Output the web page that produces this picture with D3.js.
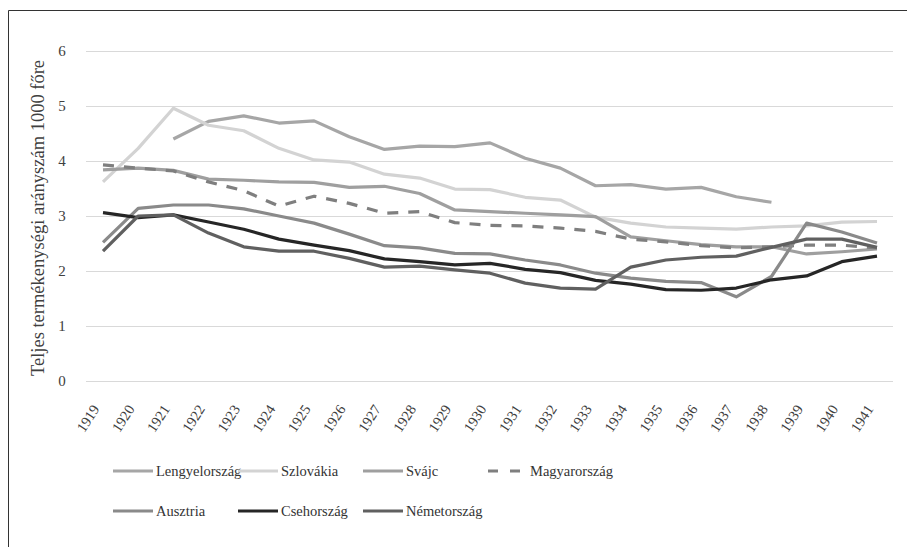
<!DOCTYPE html>
<html>
<head>
<meta charset="utf-8">
<script src="https://cdn.jsdelivr.net/npm/d3@7"></script>
<style>
  body { margin: 0; background: #fff; }
  svg { display: block; font-family: "Liberation Serif", "DejaVu Serif", serif; }
</style>
</head>
<body>
<svg width="907" height="547"></svg>
<script>
var years = d3.range(1919, 1942);
var yTicks = [0, 1, 2, 3, 4, 5, 6];

var lengyel = [null, null, 4.40, 4.72, 4.82, 4.69, 4.73, 4.44, 4.21, 4.27, 4.26, 4.33, 4.05, 3.87, 3.55, 3.57, 3.49, 3.52, 3.35, 3.25, null, null, null];
var szlovakia = [3.62, 4.23, 4.96, 4.65, 4.55, 4.23, 4.02, 3.98, 3.76, 3.69, 3.49, 3.48, 3.34, 3.29, 2.98, 2.87, 2.80, 2.78, 2.76, 2.80, 2.82, 2.89, 2.90];
var svajc = [3.84, 3.87, 3.83, 3.67, 3.65, 3.62, 3.61, 3.52, 3.54, 3.41, 3.11, 3.08, 3.05, 3.02, 2.99, 2.62, 2.55, 2.48, 2.44, 2.44, 2.31, 2.35, 2.40];
var magyar = [3.93, 3.87, 3.82, 3.62, 3.46, 3.18, 3.36, 3.23, 3.05, 3.08, 2.88, 2.83, 2.82, 2.78, 2.72, 2.58, 2.53, 2.46, 2.42, 2.44, 2.47, 2.47, 2.42];
var ausztria = [2.52, 3.14, 3.20, 3.20, 3.13, 3.00, 2.87, 2.67, 2.46, 2.42, 2.32, 2.31, 2.20, 2.11, 1.96, 1.87, 1.81, 1.79, 1.53, 1.90, 2.87, 2.71, 2.51];
var cseh = [3.06, 2.97, 3.02, 2.89, 2.76, 2.58, 2.47, 2.37, 2.22, 2.17, 2.11, 2.14, 2.03, 1.97, 1.83, 1.76, 1.66, 1.65, 1.69, 1.84, 1.91, 2.17, 2.27];
var nemet = [2.36, 3.00, 3.02, 2.69, 2.44, 2.36, 2.36, 2.23, 2.07, 2.09, 2.02, 1.96, 1.78, 1.69, 1.67, 2.07, 2.20, 2.25, 2.27, 2.43, 2.58, 2.58, 2.43];

var series = [
  { name: 'Lengyelország', values: lengyel, color: '#a6a6a6', dash: null },
  { name: 'Szlovákia', values: szlovakia, color: '#d3d3d3', dash: null },
  { name: 'Svájc', values: svajc, color: '#9f9f9f', dash: null },
  { name: 'Magyarország', values: magyar, color: '#7f7f7f', dash: '11,10' },
  { name: 'Ausztria', values: ausztria, color: '#8a8a8a', dash: null },
  { name: 'Csehország', values: cseh, color: '#262626', dash: null },
  { name: 'Németország', values: nemet, color: '#606060', dash: null }
];

(function() {
  'use strict';

  var svg = d3.select('svg');

  // frame (only left and top edges visible in the original)
  svg.append('path')
    .attr('d', 'M8.5,547 V10.5 H907')
    .attr('fill', 'none')
    .attr('stroke', '#333')
    .attr('stroke-width', 1);

  var plotLeft = 86, plotRight = 893, plotTop = 51, plotBottom = 381;

  var x = d3.scalePoint()
    .domain(years)
    .range([103, 877]);

  var y = d3.scaleLinear()
    .domain([0, 6])
    .range([plotBottom, plotTop]);

  // gridlines
  svg.append('g')
    .selectAll('line')
    .data(yTicks)
    .enter()
    .append('line')
    .attr('x1', plotLeft)
    .attr('x2', plotRight)
    .attr('y1', function(d) { return Math.round(y(d)) + 0.5; })
    .attr('y2', function(d) { return Math.round(y(d)) + 0.5; })
    .attr('stroke', '#d9d9d9')
    .attr('stroke-width', 1);

  // y tick labels
  svg.append('g')
    .selectAll('text')
    .data(yTicks)
    .enter()
    .append('text')
    .attr('x', 62)
    .attr('y', function(d) { return y(d); })
    .attr('dy', '0.35em')
    .attr('text-anchor', 'middle')
    .style('font-size', '15px')
    .attr('fill', '#404040')
    .text(function(d) { return d; });

  // x tick labels
  svg.append('g')
    .selectAll('text')
    .data(years)
    .enter()
    .append('text')
    .attr('transform', function(d) {
      return 'translate(' + (x(d) - 3) + ',' + 409 + ') rotate(-57)';
    })
    .attr('text-anchor', 'end')
    .style('font-size', '14.5px')
    .attr('fill', '#404040')
    .text(function(d) { return d; });

  // y axis title
  svg.append('text')
    .attr('transform', 'translate(44,218) rotate(-90)')
    .attr('text-anchor', 'middle')
    .style('font-size', '18.5px')
    .attr('fill', '#404040')
    .text('Teljes termékenységi arányszám 1000 főre');

  // lines
  var line = d3.line()
    .defined(function(d) { return d.v !== null; })
    .x(function(d) { return x(d.year); })
    .y(function(d) { return y(d.v); });

  svg.append('g')
    .selectAll('path')
    .data(series)
    .enter()
    .append('path')
    .attr('d', function(s) {
      return line(s.values.map(function(v, i) { return { year: years[i], v: v }; }));
    })
    .attr('fill', 'none')
    .attr('stroke', function(s) { return s.color; })
    .attr('stroke-width', 3.2)
    .attr('stroke-linejoin', 'round')
    .attr('stroke-dasharray', function(s) { return s.dash; });

  // legend
  var legendX = [113, 238, 363, 488];
  var legendY = [471, 511];

  var legend = svg.append('g')
    .selectAll('g')
    .data(series)
    .enter()
    .append('g')
    .attr('transform', function(s, i) {
      return 'translate(' + legendX[i % 4] + ',' + legendY[Math.floor(i / 4)] + ')';
    });

  legend.append('line')
    .attr('x1', 0)
    .attr('x2', function(s) { return s.dash ? 34 : 40; })
    .attr('y1', 0)
    .attr('y2', 0)
    .attr('stroke', function(s) { return s.color; })
    .attr('stroke-width', 3.2)
    .attr('stroke-dasharray', function(s) { return s.dash ? '10,12' : null; });

  legend.append('text')
    .attr('x', function(s) { return s.dash ? 42 : 43; })
    .attr('y', 0)
    .attr('dy', '0.35em')
    .style('font-size', '14.5px')
    .attr('fill', '#333')
    .text(function(s) { return s.name; });
})();
</script>
</body>
</html>
